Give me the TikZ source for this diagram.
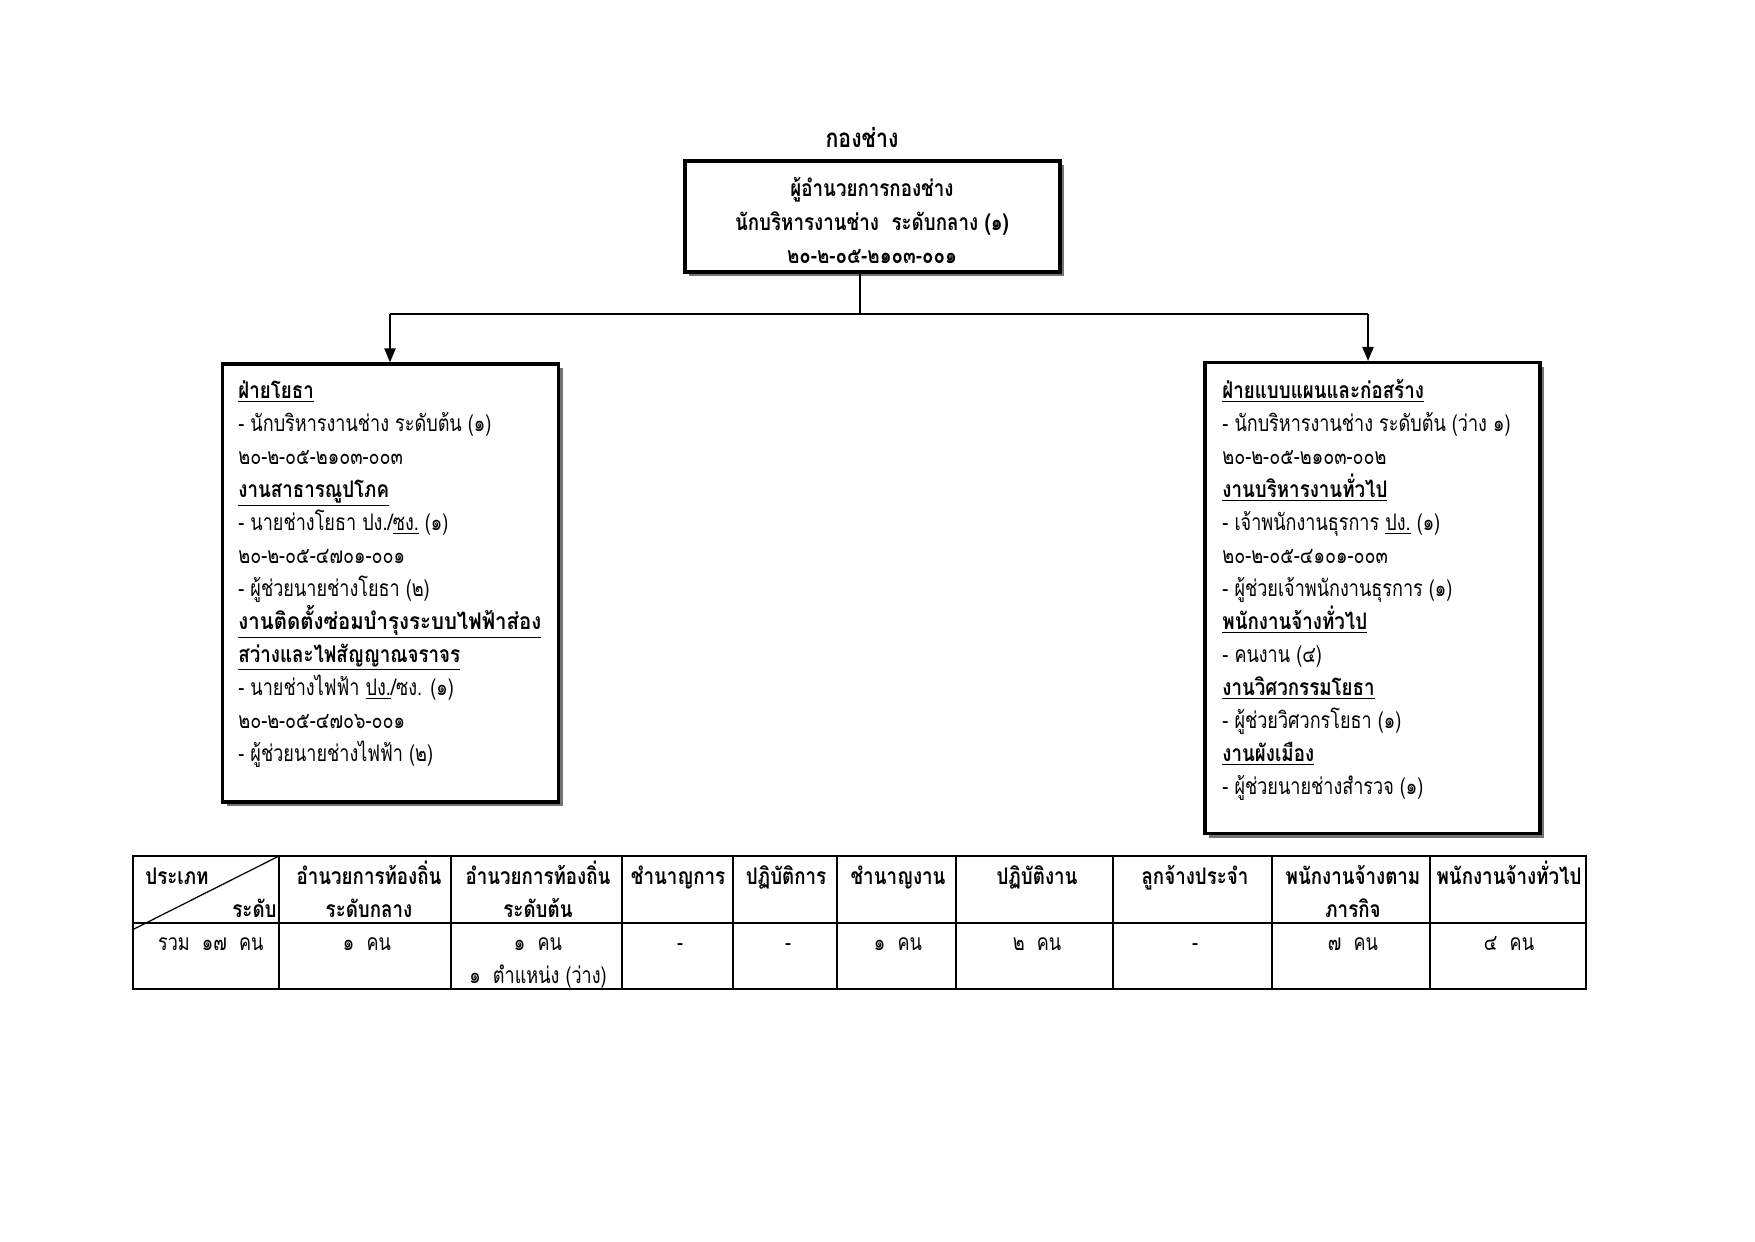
\documentclass[tikz,border=0pt]{standalone}
\usepackage{fontspec}
\usepackage{graphicx}
\setmainfont{Loma}[Script=Thai, UprightFeatures={FakeStretch=0.79}, BoldFeatures={FakeStretch=0.82}]
\usetikzlibrary{arrows.meta,shadows}
\def\px{0.0169231cm}
\begin{document}
\begin{tikzpicture}[x=0.0169231cm,y=-0.0169231cm,
  txt/.style={anchor=base west, inner sep=0pt, font=\fontsize{11}{13}\selectfont},
  hd/.style={anchor=base west, inner sep=0pt, font=\fontsize{11}{13}\selectfont\bfseries},
  ctr/.style={anchor=base, inner sep=0pt, font=\fontsize{11}{13}\selectfont\bfseries},
  th/.style={anchor=base, inner sep=0pt, font=\fontsize{11}{13}\selectfont\bfseries},
  td/.style={anchor=base, inner sep=0pt, font=\fontsize{11}{13}\selectfont},
  box/.style={draw, line width=1.5pt, fill=white, inner sep=0pt,
    general shadow={fill=black!55, shadow xshift=4*\px, shadow yshift=-4*\px}},
  conn/.style={line width=1pt},
  arr/.style={line width=1pt, -{Triangle[length=14*\px, width=11*\px]}},
  grid/.style={line width=0.6pt}]
\useasboundingbox (0,0) rectangle (1755,1241);
% title
\node[ctr, font=\fontsize{12.5}{14}\selectfont\bfseries] (title) at (862,147) {กองช่าง};
% boxes
\node[box, minimum width=375*\px, minimum height=111*\px] (top) at (872.5,216.5) {};
\node[box, minimum width=336*\px, minimum height=438*\px] (left) at (390.5,583) {};
\node[box, minimum width=335*\px, minimum height=471*\px] (right) at (1372.5,598) {};
% top box text
\node[ctr] (t1) at (872,196) {ผู้อำนวยการกองช่าง};
\node[ctr] (t2) at (872,230) {นักบริหารงานช่าง\ \ ระดับกลาง (๑)};
\node[ctr] (t3) at (872,263) {๒๐-๒-๐๕-๒๑๐๓-๐๐๑};
% connectors
\coordinate (j) at (860,314);
\coordinate (jl) at (390,314);
\coordinate (jr) at (1368,314);
\draw[conn] (top.south -| j) -- (j);
\draw[conn] (jl) -- (jr);
\draw[arr] (jl) -- (left.north -| jl);
\draw[arr] (jr) -- (right.north -| jr);
% left box text
\node[hd] (l0) at (238,398) {\underline{ฝ่ายโยธา}};
\node[txt] (l1) at (238,431) {- นักบริหารงานช่าง ระดับต้น (๑)};
\node[txt] (l2) at (238,464) {๒๐-๒-๐๕-๒๑๐๓-๐๐๓};
\node[hd] (l3) at (238,497) {\underline{งานสาธารณูปโภค}};
\node[txt] (l4) at (238,530) {- นายช่างโยธา ปง./\underline{ซง.} (๑)};
\node[txt] (l5) at (238,563) {๒๐-๒-๐๕-๔๗๐๑-๐๐๑};
\node[txt] (l6) at (238,596) {- ผู้ช่วยนายช่างโยธา (๒)};
\node[hd] (l7) at (238,629) {\scalebox{1.09}[1]{\underline{งานติดตั้งซ่อมบำรุงระบบไฟฟ้าส่อง}}};
\node[hd] (l8) at (238,662) {\underline{สว่างและไฟสัญญาณจราจร}};
\node[txt] (l9) at (238,695) {- นายช่างไฟฟ้า \underline{ปง.}/ซง. (๑)};
\node[txt] (l10) at (238,728) {๒๐-๒-๐๕-๔๗๐๖-๐๐๑};
\node[txt] (l11) at (238,761) {- ผู้ช่วยนายช่างไฟฟ้า (๒)};
% right box text
\node[hd] (r0) at (1222,398) {\underline{ฝ่ายแบบแผนและก่อสร้าง}};
\node[txt] (r1) at (1222,431) {- นักบริหารงานช่าง ระดับต้น (ว่าง ๑)};
\node[txt] (r2) at (1222,464) {๒๐-๒-๐๕-๒๑๐๓-๐๐๒};
\node[hd] (r3) at (1222,497) {\underline{งานบริหารงานทั่วไป}};
\node[txt] (r4) at (1222,530) {- เจ้าพนักงานธุรการ \underline{ปง.} (๑)};
\node[txt] (r5) at (1222,563) {๒๐-๒-๐๕-๔๑๐๑-๐๐๓};
\node[txt] (r6) at (1222,596) {- ผู้ช่วยเจ้าพนักงานธุรการ (๑)};
\node[hd] (r7) at (1222,629) {\underline{พนักงานจ้างทั่วไป}};
\node[txt] (r8) at (1222,662) {- คนงาน (๔)};
\node[hd] (r9) at (1222,695) {\underline{งานวิศวกรรมโยธา}};
\node[txt] (r10) at (1222,728) {- ผู้ช่วยวิศวกรโยธา (๑)};
\node[hd] (r11) at (1222,761) {\underline{งานผังเมือง}};
\node[txt] (r12) at (1222,794) {- ผู้ช่วยนายช่างสำรวจ (๑)};
% table grid
\draw[grid] (133,856) rectangle (1586,989);
\draw[grid] (133,923) -- (1586,923);
\foreach \x in {279,451,622,733,837,956,1113,1272,1430}
  \draw[grid] (\x,856) -- (\x,989);
\draw[grid] (132,930) -- (279,856);
% table header
\node[th, anchor=base west] (h1a) at (145,884) {ประเภท};
\node[th, anchor=base east] (h1b) at (277,917) {ระดับ};
\node[th] (h2a) at (369,884) {อำนวยการท้องถิ่น};
\node[th] (h2b) at (369,917) {ระดับกลาง};
\node[th] (h3a) at (538,884) {อำนวยการท้องถิ่น};
\node[th] (h3b) at (538,917) {ระดับต้น};
\node[th] (h4) at (678,884) {ชำนาญการ};
\node[th] (h5) at (786,884) {ปฏิบัติการ};
\node[th] (h6) at (898,884) {ชำนาญงาน};
\node[th] (h7) at (1037,884) {ปฏิบัติงาน};
\node[th] (h8) at (1195,884) {ลูกจ้างประจำ};
\node[th] (h9a) at (1353,884) {พนักงานจ้างตาม};
\node[th] (h9b) at (1353,917) {ภารกิจ};
\node[th] (h10) at (1509,884) {พนักงานจ้างทั่วไป};
% table data
\node[td, anchor=base east] (d1) at (264,950) {รวม\ \ ๑๗\ \ คน};
\node[td] (d2) at (367,950) {๑\ \ คน};
\node[td] (d3a) at (538,950) {๑\ \ คน};
\node[td] (d3b) at (538,983) {๑\ \ ตำแหน่ง (ว่าง)};
\node[td] (d4) at (680,950) {-};
\node[td] (d5) at (788,950) {-};
\node[td] (d6) at (898,950) {๑\ \ คน};
\node[td] (d7) at (1037,950) {๒\ \ คน};
\node[td] (d8) at (1195,950) {-};
\node[td] (d9) at (1353,950) {๗\ \ คน};
\node[td] (d10) at (1509,950) {๔\ \ คน};
\end{tikzpicture}
\end{document}
